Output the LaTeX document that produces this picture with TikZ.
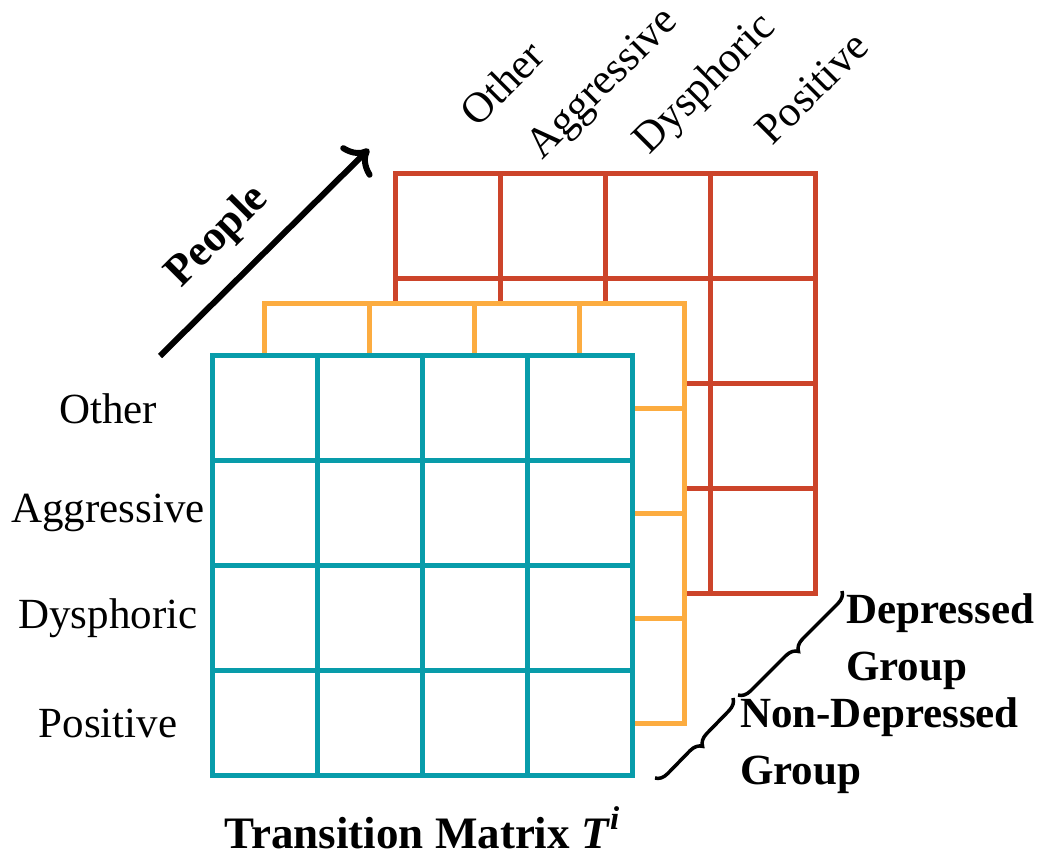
\documentclass[tikz,border=0pt]{standalone}
\usepackage{fontspec}
\setmainfont{Liberation Serif}
\usetikzlibrary{arrows.meta,decorations.pathreplacing}
\definecolor{tealc}{RGB}{8,156,170}
\definecolor{orangec}{RGB}{252,172,64}
\definecolor{redc}{RGB}{204,68,42}
\newcommand\mygridlayer[3]{%
  \filldraw[draw=#1, fill=white, gridline] (#2,#3) rectangle ++(420,420);
  \foreach \k in {1,2,3}{%
    \draw[#1, gridline] ({#2+105*\k},#3) -- ++(0,420);
    \draw[#1, gridline] (#2,{#3+105*\k}) -- ++(420,0);
  }}
\begin{document}
\begin{tikzpicture}[x=1pt,y=-1pt,
  gridline/.style={line width=5pt},
  lab/.style={font=\fontsize{43}{50}\selectfont, inner sep=0pt},
  blab/.style={font=\fontsize{43}{57}\selectfont\bfseries, inner sep=0pt, align=left, anchor=west},
  bracestyle/.style={line width=3.5pt, decorate, decoration={brace, amplitude=12pt}}]
\useasboundingbox (0,0) rectangle (1042,851);
% layers back to front
\mygridlayer{redc}{395}{173}
\mygridlayer{orangec}{264}{303}
\mygridlayer{tealc}{212}{355}
% row labels
\node[lab] (r1) at (108,409) {Other};
\node[lab] (r2) at (108,513) {Aggressive};
\node[lab] (r3) at (108,618) {Dysphoric};
\node[lab] (r4) at (108,723) {Positive};
% column labels
\node[lab, rotate=45] (c1) at (502,83) {Other};
\node[lab, rotate=45] (c2) at (604,85) {Aggressive};
\node[lab, rotate=45] (c3) at (706,85) {Dysphoric};
\node[lab, rotate=45] (c4) at (812,88) {Positive};
% people arrow
\coordinate (ptail) at (160,356);
\coordinate (phead) at (369,149);
\draw[line width=6pt, -{Computer Modern Rightarrow[scale=1.4]}] (ptail) -- (phead);
\node[lab, font=\fontsize{44}{50}\selectfont\bfseries, rotate=45] (people) at (218,237) {People};
% title
\node[lab, font=\fontsize{45}{50}\selectfont\bfseries] (title) at (422,828) {Transition Matrix \textit{T}\raisebox{0.42em}{\fontsize{33}{33}\selectfont\textit{i}}};
% braces
\coordinate (b1a) at (842,591);
\coordinate (b1b) at (738,695);
\coordinate (b2a) at (733,698);
\coordinate (b2b) at (655,778);
\draw[bracestyle] (b1a) -- (b1b);
\draw[bracestyle] (b2a) -- (b2b);
\node[blab] (dep) at (846,642) {Depressed\\Group};
\node[blab] (nondep) at (740,746) {Non-Depressed\\Group};
\end{tikzpicture}
\end{document}
